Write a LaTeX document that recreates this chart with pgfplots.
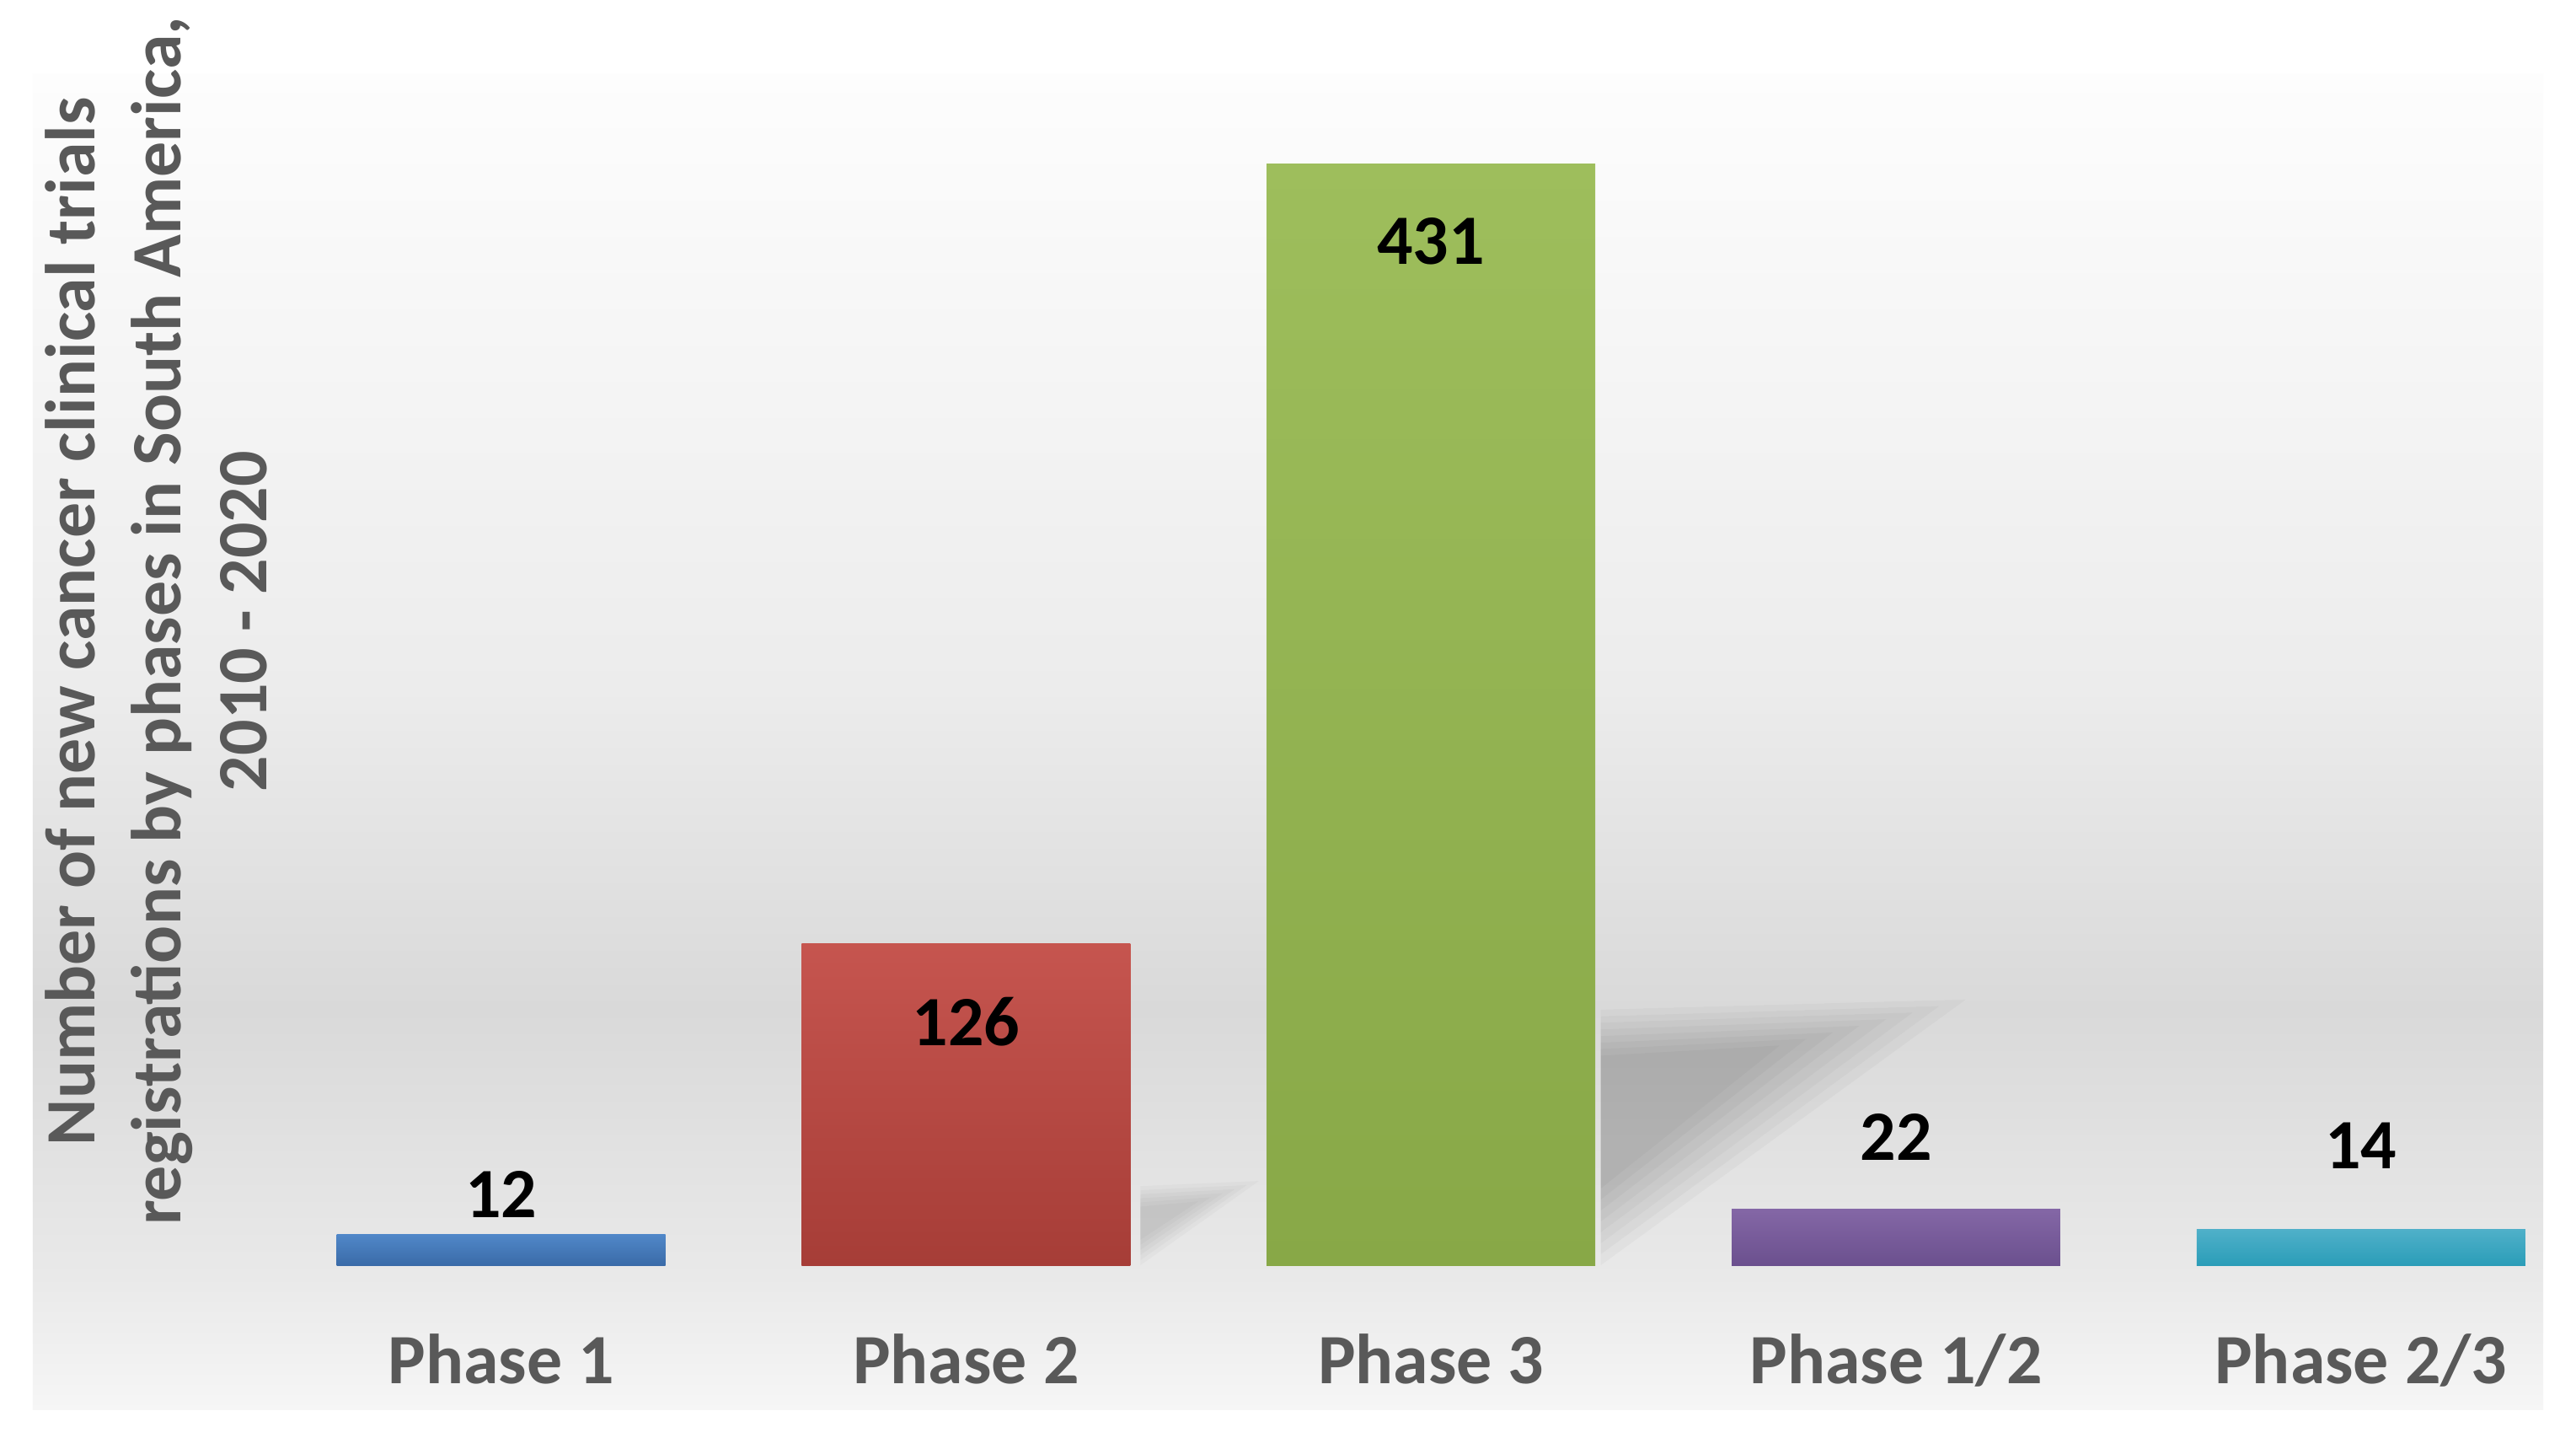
\documentclass[border=0pt]{standalone}
\usepackage{pgfplots}
\pgfplotsset{compat=1.18}
\usepackage{fontspec}
\setmainfont{Carlito}
\definecolor{txtgray}{HTML}{595959}
\definecolor{bgA}{HTML}{F6F6F6}
\definecolor{bgB}{HTML}{E9E9E9}
\definecolor{bgC}{HTML}{D9D9D9}
\definecolor{bgD}{HTML}{ECECEC}
\definecolor{bgE}{HTML}{FDFDFD}
\definecolor{blueT}{HTML}{5087C8}
\definecolor{blueB}{HTML}{3A6BA8}
\definecolor{redT}{HTML}{C6554F}
\definecolor{redB}{HTML}{A63D37}
\definecolor{greenT}{HTML}{9EBE5C}
\definecolor{greenB}{HTML}{88A847}
\definecolor{purT}{HTML}{8467A6}
\definecolor{purB}{HTML}{6B508E}
\definecolor{cyanT}{HTML}{4FB0C9}
\definecolor{cyanB}{HTML}{2B9DB8}
\pgfdeclareverticalshading{bgshade}{100bp}{color(0bp)=(bgA); color(25bp)=(bgA); color(30bp)=(bgB); color(40bp)=(bgC); color(52bp)=(bgD); color(75bp)=(bgE); color(100bp)=(bgE)}
\begin{document}
\begin{tikzpicture}
\useasboundingbox[fill=white] (-0.2041,-0.1735) rectangle (15.796,8.755);
\shade[shading=bgshade] (0,0) rectangle (15.592,8.296);
\begin{axis}[
  at={(0,0)}, anchor=south west,
  width=15.592cm, height=8.296cm, scale only axis,
  xmin=-1.007, xmax=4.392, ymin=-56.6, ymax=466.2,
  clip=false,
  axis line style={draw=none},
  tick style={draw=none},
  ytick=\empty,
  xtick={0,1,2,3,4},
  xticklabels={Phase 1,Phase 2,Phase 3,Phase 1/2,Phase 2/3},
  xticklabel style={anchor=base, yshift=0.165cm, inner sep=0pt, text=txtgray, font=\fontsize{12.5}{15}\selectfont\bfseries},
]
% cast shadows (decoration), layered for a soft edge
\fill[black, opacity=0.028] (axis cs:2.365,0)    -- (axis cs:2.365,100)  -- (axis cs:3.15,104)   -- cycle;
\fill[black, opacity=0.028] (axis cs:2.365,4.3)  -- (axis cs:2.365,97.4) -- (axis cs:3.093,101.4) -- cycle;
\fill[black, opacity=0.028] (axis cs:2.365,8.6)  -- (axis cs:2.365,94.9) -- (axis cs:3.036,98.9) -- cycle;
\fill[black, opacity=0.028] (axis cs:2.365,12.9) -- (axis cs:2.365,92.3) -- (axis cs:2.979,96.3) -- cycle;
\fill[black, opacity=0.028] (axis cs:2.365,17.1) -- (axis cs:2.365,89.7) -- (axis cs:2.921,93.7) -- cycle;
\fill[black, opacity=0.028] (axis cs:2.365,21.4) -- (axis cs:2.365,87.1) -- (axis cs:2.864,91.1) -- cycle;
\fill[black, opacity=0.028] (axis cs:2.365,25.7) -- (axis cs:2.365,84.6) -- (axis cs:2.807,88.6) -- cycle;
\fill[black, opacity=0.028] (axis cs:2.365,30)   -- (axis cs:2.365,82)   -- (axis cs:2.75,86)    -- cycle;
\fill[black, opacity=0.024] (axis cs:1.375,0)  -- (axis cs:1.375,31)   -- (axis cs:1.63,33)    -- cycle;
\fill[black, opacity=0.024] (axis cs:1.375,2)  -- (axis cs:1.375,29.4) -- (axis cs:1.604,31.4) -- cycle;
\fill[black, opacity=0.024] (axis cs:1.375,4)  -- (axis cs:1.375,27.8) -- (axis cs:1.578,29.8) -- cycle;
\fill[black, opacity=0.024] (axis cs:1.375,6)  -- (axis cs:1.375,26.2) -- (axis cs:1.552,28.2) -- cycle;
\fill[black, opacity=0.024] (axis cs:1.375,8)  -- (axis cs:1.375,24.6) -- (axis cs:1.526,26.6) -- cycle;
\fill[black, opacity=0.024] (axis cs:1.375,10) -- (axis cs:1.375,23)   -- (axis cs:1.5,25)     -- cycle;
% bars
\addplot[ybar, bar width=2.041cm, bar shift=0pt, draw=none, top color=blueT, bottom color=blueB] coordinates {(0,12)};
\addplot[ybar, bar width=2.041cm, bar shift=0pt, draw=none, top color=redT, bottom color=redB] coordinates {(1,126)};
\addplot[ybar, bar width=2.041cm, bar shift=0pt, draw=none, top color=greenT, bottom color=greenB] coordinates {(2,431)};
\addplot[ybar, bar width=2.041cm, bar shift=0pt, draw=none, top color=purT, bottom color=purB] coordinates {(3,22)};
\addplot[ybar, bar width=2.041cm, bar shift=0pt, draw=none, top color=cyanT, bottom color=cyanB] coordinates {(4,14)};
% value labels
\begin{scope}[every node/.style={font=\fontsize{12.5}{15}\selectfont\bfseries, text=black, inner sep=0pt}]
\node at (axis cs:0,27.7) {12};
\node at (axis cs:1,95.2) {126};
\node at (axis cs:2,400.6) {431};
\node at (axis cs:3,50.2) {22};
\node at (axis cs:4,46.9) {14};
\end{scope}
% y label
\node[rotate=90, align=center, text=txtgray, font=\fontsize{12.5}{15.2}\selectfont\bfseries, inner sep=0pt] at (axis cs:-0.742,252) {Number of new cancer clinical trials\\registrations by phases in South America,\\2010 - 2020};
\end{axis}
\end{tikzpicture}
\end{document}
